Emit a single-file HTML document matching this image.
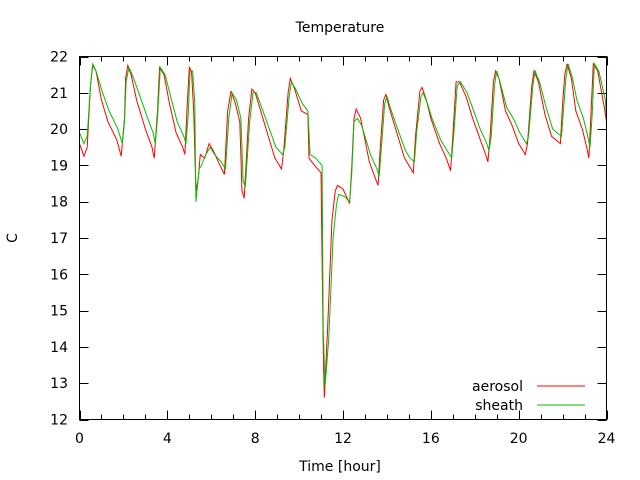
<!DOCTYPE html>
<html><head><meta charset="utf-8"><style>
html,body{margin:0;padding:0;background:#fff;}
svg{display:block;font-family:"DejaVu Sans","Liberation Sans",sans-serif;}
</style></head><body>
<svg id="chart" width="640" height="480" viewBox="0 0 640 480">
<text x="340" y="32" font-size="14" text-anchor="middle">Temperature</text>
<text x="17" y="238" font-size="14" text-anchor="middle" transform="rotate(-90 17 238)">C</text>
<text x="340" y="471" font-size="14" text-anchor="middle">Time [hour]</text>
<g id="axes"></g>
<g id="series"></g>
<rect x="79.5" y="56.5" width="527" height="363" fill="none" stroke="#000" stroke-width="1"/>
<g>
<text x="523" y="391" font-size="14" text-anchor="end">aerosol</text>
<line x1="537" y1="386" x2="585" y2="386" stroke="#ff0000"/>
<text x="523" y="410" font-size="14" text-anchor="end">sheath</text>
<line x1="537" y1="405" x2="585" y2="405" stroke="#00c000"/>
</g>
</svg>
<script>
const xTicks = [0,4,8,12,16,20,24];
const yTicks = [12,13,14,15,16,17,18,19,20,21,22];
const aerosolT = [0,0.2,0.35,0.5,0.6,0.75,1.0,1.3,1.7,1.9,2.05,2.1,2.2,2.35,2.6,3.0,3.3,3.4,3.55,3.65,3.85,4.1,4.4,4.7,4.8,4.9,5.0,5.1,5.2,5.3,5.4,5.5,5.7,5.9,6.1,6.4,6.6,6.75,6.9,7.1,7.3,7.4,7.5,7.7,7.85,8.0,8.3,8.6,8.9,9.2,9.3,9.5,9.6,9.8,10.1,10.4,10.45,10.7,11.0,11.1,11.15,11.3,11.5,11.65,11.75,12.0,12.3,12.4,12.5,12.6,12.8,13.0,13.2,13.5,13.6,13.7,13.85,13.95,14.1,14.5,14.8,15.0,15.2,15.3,15.5,15.6,15.8,16.0,16.4,16.7,16.9,17.0,17.15,17.3,17.6,17.9,18.2,18.5,18.6,18.7,18.85,18.95,19.1,19.4,19.7,20.0,20.3,20.4,20.6,20.7,20.9,21.2,21.5,21.9,22.0,22.1,22.2,22.4,22.6,22.9,23.1,23.2,23.3,23.4,23.6,23.9,24];
const aerosolV = [19.6,19.25,19.5,21.2,21.75,21.6,20.8,20.2,19.7,19.25,20.3,21.4,21.75,21.5,20.8,20.0,19.5,19.2,20.5,21.7,21.5,20.7,19.9,19.5,19.3,20.6,21.7,21.6,20.5,18.3,18.6,19.3,19.2,19.6,19.4,19.0,18.75,20.5,21.05,20.7,20.2,18.3,18.1,20.3,21.1,21.0,20.4,19.8,19.2,18.9,19.4,21.0,21.4,21.1,20.5,20.4,19.2,19.0,18.8,14.0,12.6,14.5,17.5,18.3,18.45,18.35,17.95,19.0,20.3,20.55,20.3,19.7,19.1,18.6,18.45,19.5,20.8,20.95,20.6,19.8,19.2,19.0,18.8,19.8,21.05,21.15,20.8,20.3,19.6,19.2,18.85,19.8,21.3,21.3,20.9,20.3,19.8,19.3,19.1,19.8,21.3,21.6,21.4,20.5,20.1,19.6,19.3,19.6,21.2,21.6,21.3,20.4,19.8,19.6,20.7,21.5,21.8,21.4,20.5,20.0,19.5,19.2,20.5,21.8,21.6,20.6,20.2];
const sheathT = [0,0.2,0.35,0.5,0.6,0.75,1.05,1.35,1.75,1.95,2.05,2.12,2.25,2.4,2.7,3.1,3.35,3.45,3.55,3.68,3.9,4.15,4.45,4.75,4.85,4.95,5.03,5.15,5.25,5.3,5.45,5.55,5.75,5.95,6.15,6.45,6.65,6.8,6.95,7.15,7.35,7.45,7.55,7.75,7.9,8.05,8.35,8.65,8.95,9.25,9.35,9.55,9.65,9.85,10.15,10.4,10.5,10.75,11.05,11.1,11.18,11.35,11.55,11.7,11.8,12.05,12.3,12.4,12.5,12.65,12.85,13.05,13.25,13.55,13.65,13.75,13.9,14.0,14.15,14.55,14.85,15.05,15.25,15.35,15.55,15.65,15.85,16.05,16.45,16.75,16.95,17.05,17.2,17.35,17.65,17.95,18.25,18.55,18.65,18.75,18.9,19.0,19.15,19.45,19.75,20.05,20.35,20.45,20.65,20.75,20.95,21.25,21.55,21.95,22.05,22.15,22.25,22.45,22.65,22.95,23.15,23.25,23.35,23.45,23.65,23.95,24];
const sheathV = [19.9,19.6,19.8,21.2,21.8,21.6,21.0,20.5,20.0,19.6,20.2,21.3,21.7,21.5,21.0,20.3,19.9,19.6,20.3,21.7,21.5,20.9,20.2,19.8,19.6,20.4,21.6,21.6,20.7,18.0,18.9,19.0,19.3,19.5,19.3,19.1,18.9,20.3,21.0,20.8,20.3,18.6,18.4,20.2,21.0,21.0,20.5,20.0,19.5,19.3,19.5,20.9,21.3,21.1,20.7,20.5,19.3,19.2,19.0,14.5,12.9,14.2,17.0,17.9,18.2,18.15,18.0,18.8,20.2,20.3,20.1,19.7,19.3,18.9,18.7,19.5,20.7,20.9,20.6,19.9,19.4,19.2,19.1,19.9,20.9,21.0,20.7,20.3,19.7,19.4,19.2,19.9,21.2,21.3,21.0,20.5,20.0,19.6,19.4,19.8,21.2,21.6,21.3,20.6,20.3,19.9,19.6,19.8,21.2,21.6,21.3,20.6,20.0,19.8,20.6,21.4,21.8,21.4,20.8,20.3,19.8,19.5,20.4,21.8,21.6,20.8,20.3];

const NS = "http://www.w3.org/2000/svg";
const L = 79.5, R = 606.5, T = 56.5, B = 419.5;
function xs(h){ return L + (h - 0) / 24 * (R - L); }
function ys(v){ return B - (v - 12) / 10 * (B - T); }
const axes = document.getElementById('axes');
function mk(tag, attrs, parent){ const e = document.createElementNS(NS, tag); for (const k in attrs) e.setAttribute(k, attrs[k]); parent.appendChild(e); return e; }
for (let h = 0; h <= 24; h++) {
  const major = xTicks.indexOf(h) >= 0;
  const len = major ? 9 : 5;
  const x = Math.round(xs(h)) + 0.5;
  const t1 = mk('line', {x1:x, y1:B, x2:x, y2:B-len, stroke:'#000'}, axes);
  
  
  const t2 = mk('line', {x1:x, y1:T, x2:x, y2:T+len, stroke:'#000'}, axes);
  
  
}
xTicks.forEach(h => {
  const t = mk('text', {x:xs(h), y:443, 'font-size':14, 'text-anchor':'middle'}, axes);
  t.textContent = h;
  
  
});
yTicks.forEach(v => {
  const y = Math.round(ys(v)) + 0.5;
  const a = mk('line', {x1:L, y1:y, x2:L+9, y2:y, stroke:'#000'}, axes);
  
  
  const b = mk('line', {x1:R, y1:y, x2:R-9, y2:y, stroke:'#000'}, axes);
  
  
  const t = mk('text', {x:68, y:ys(v)+5, 'font-size':14, 'text-anchor':'end'}, axes);
  t.textContent = v;
  
  
});
const series = document.getElementById('series');
function drawLine(ts, vs, color, name){
  const pts = ts.map((t, i) => xs(t).toFixed(1) + ',' + ys(vs[i]).toFixed(1)).join(' ');
  const p = mk('polyline', {points:pts, fill:'none', stroke:color, 'stroke-width':1}, series);
  
  
}
drawLine(aerosolT, aerosolV, '#ff0000', 'aerosol-line');
drawLine(sheathT, sheathV, '#00c000', 'sheath-line');
</script>
</body></html>
